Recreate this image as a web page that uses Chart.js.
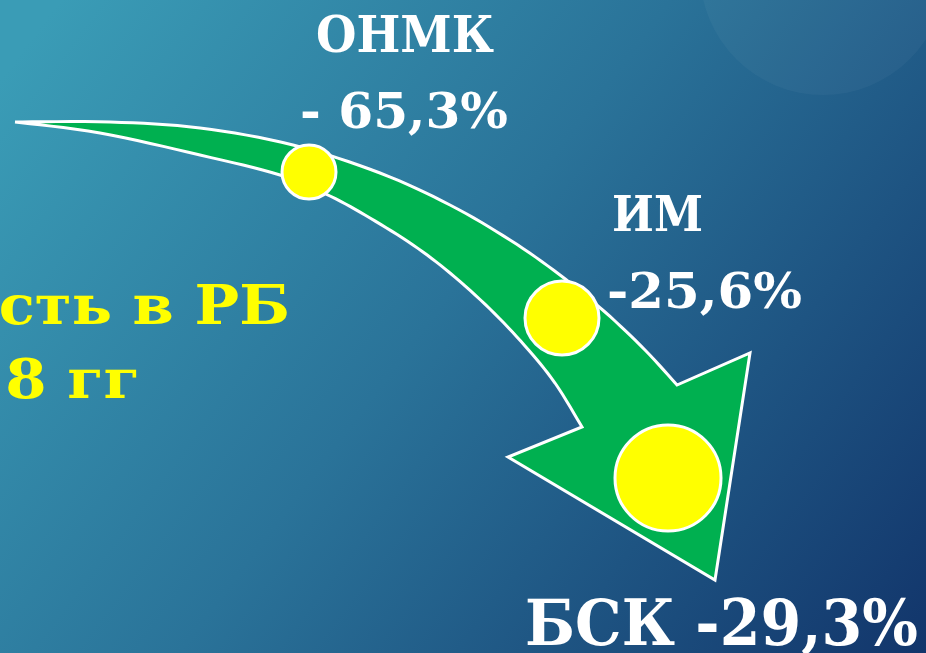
<!DOCTYPE html>
<html>
<head>
<meta charset="utf-8">
<script src="https://cdn.jsdelivr.net/npm/chart.js@4"></script>
<style>
  html, body { margin: 0; padding: 0; background: #2a7499; overflow: hidden; }
  #wrap { width: 926px; height: 653px; position: relative; }
</style>
</head>
<body>
<div id="wrap"><canvas id="chart" width="926" height="653"></canvas></div>
<script>
// Data
const categories = ["ОНМК", "ИМ", "БСК"]
const changes = [-65.3, -25.6, -29.3]
const titleLines = ["Смертность в РБ", "2014-2018 гг"]

// Marker spots on the hidden 926x653 scale
const markerX = [309, 562, 668]
const markerY = [172, 318, 478]
const markerR = [27, 37, 53]

// Arrow outline on the same scale
const upperX = [15, 110, 200, 293, 380, 450, 510, 560, 605, 645, 677]
const upperY = [122, 122, 128, 145, 173, 205, 240, 275, 312, 350, 385]
const headX = [750, 715, 508]
const headY = [353, 580, 457]
const lowerX = [582, 555, 525, 490, 450, 413, 370, 330, 280, 200, 100, 15]
const lowerY = [427, 383, 346, 309, 273, 245, 218, 196, 175, 155, 133, 122]

function fmt(v) {
  return v.toFixed(1).replace(".", ",") + "%"
}

// Smooth an edge through its read-off points (Catmull-Rom), corners stay sharp
function smoothEdge(xs, ys, steps) {
  const out = []
  const n = xs.length
  const px = (i) => xs[Math.max(0, Math.min(n - 1, i))]
  const py = (i) => ys[Math.max(0, Math.min(n - 1, i))]
  for (let i = 0; i < n - 1; i++) {
    for (let s = 0; s < steps; s++) {
      const t = s / steps
      const t2 = t * t
      const t3 = t2 * t
      const cr = (p0, p1, p2, p3) =>
        0.5 * (2 * p1 + (-p0 + p2) * t + (2 * p0 - 5 * p1 + 4 * p2 - p3) * t2 + (-p0 + 3 * p1 - 3 * p2 + p3) * t3)
      out.push({
        x: cr(px(i - 1), px(i), px(i + 1), px(i + 2)),
        y: cr(py(i - 1), py(i), py(i + 1), py(i + 2))
      })
    }
  }
  out.push({ x: xs[n - 1], y: ys[n - 1] })
  return out
}

// Background plugin
const backdrop = {
  id: "backdrop",
  beforeDraw(chart) {
    const { ctx, width, height } = chart
    ctx.save()
    const g = ctx.createLinearGradient(60, 0, width, height)
    g.addColorStop(0, "#3a9cb6")
    g.addColorStop(0.45, "#2a7399")
    g.addColorStop(1, "#12356b")
    ctx.fillStyle = g
    ctx.fillRect(0, 0, width, height)
    ctx.beginPath()
    ctx.arc(823, -28, 123, 0, Math.PI * 2)
    ctx.fillStyle = "rgba(255,255,255,0.035)"
    ctx.fill()
    ctx.restore()
  }
}

// Text plugin
const texts = {
  id: "texts",
  afterDatasetsDraw(chart) {
    const { ctx } = chart
    const x = chart.scales.x
    const y = chart.scales.y
    const serif = "'DejaVu Serif', 'Liberation Serif', serif"

    function fit(text, left, base, size, width) {
      ctx.save()
      ctx.font = "bold " + size + "px " + serif
      const w = ctx.measureText(text).width
      ctx.translate(x.getPixelForValue(left), y.getPixelForValue(base))
      ctx.scale(width / w, 1)
      ctx.textAlign = "left"
      ctx.fillText(text, 0, 0)
      ctx.restore()
    }

    function rightText(text, right, base, size, stretch) {
      ctx.save()
      ctx.font = "bold " + size + "px " + serif
      ctx.translate(x.getPixelForValue(right), y.getPixelForValue(base))
      ctx.scale(stretch, 1)
      ctx.textAlign = "right"
      ctx.fillText(text, 0, 0)
      ctx.restore()
    }

    ctx.save()
    ctx.textBaseline = "alphabetic"
    ctx.fillStyle = "#ffffff"
    fit(categories[0], 316, 52, 50, 178)
    fit("- " + fmt(Math.abs(changes[0])), 300, 128, 49, 208)
    fit(categories[1], 612, 231, 48, 91)
    fit(fmt(changes[1]), 607, 308, 49, 195)
    fit(categories[2] + " " + fmt(changes[2]), 525, 645, 64, 393)

    ctx.fillStyle = "#ffff00"
    rightText(titleLines[0], 290, 324, 54, 1.1)
    rightText(titleLines[1], 140, 398, 54, 1.1)
    ctx.restore()
  }
}

const arrowPoints = [
  ...smoothEdge(upperX, upperY, 8),
  ...headX.map((v, i) => ({ x: v, y: headY[i] })),
  ...smoothEdge(lowerX, lowerY, 8)
]
const markerPoints = markerX.map((v, i) => ({ x: v, y: markerY[i], r: markerR[i] }))

new Chart(document.getElementById("chart"), {
  type: "scatter",
  data: {
    datasets: [
      {
        type: "bubble",
        label: "markers",
        data: markerPoints,
        backgroundColor: "#ffff00",
        borderColor: "#ffffff",
        borderWidth: 3,
        order: 1
      },
      {
        label: "arrow",
        data: arrowPoints,
        showLine: true,
        tension: 0,
        fill: "shape",
        backgroundColor: "#00b050",
        borderColor: "#ffffff",
        borderWidth: 3,
        borderJoinStyle: "miter",
        pointRadius: 0,
        order: 2
      }
    ]
  },
  options: {
    responsive: false,
    animation: false,
    layout: { padding: 0, autoPadding: false },
    plugins: { legend: { display: false }, tooltip: { enabled: false } },
    scales: {
      x: { type: "linear", display: false, min: 0, max: 926 },
      y: { type: "linear", display: false, min: 0, max: 653, reverse: true }
    }
  },
  plugins: [backdrop, texts]
})
</script>
</body>
</html>
